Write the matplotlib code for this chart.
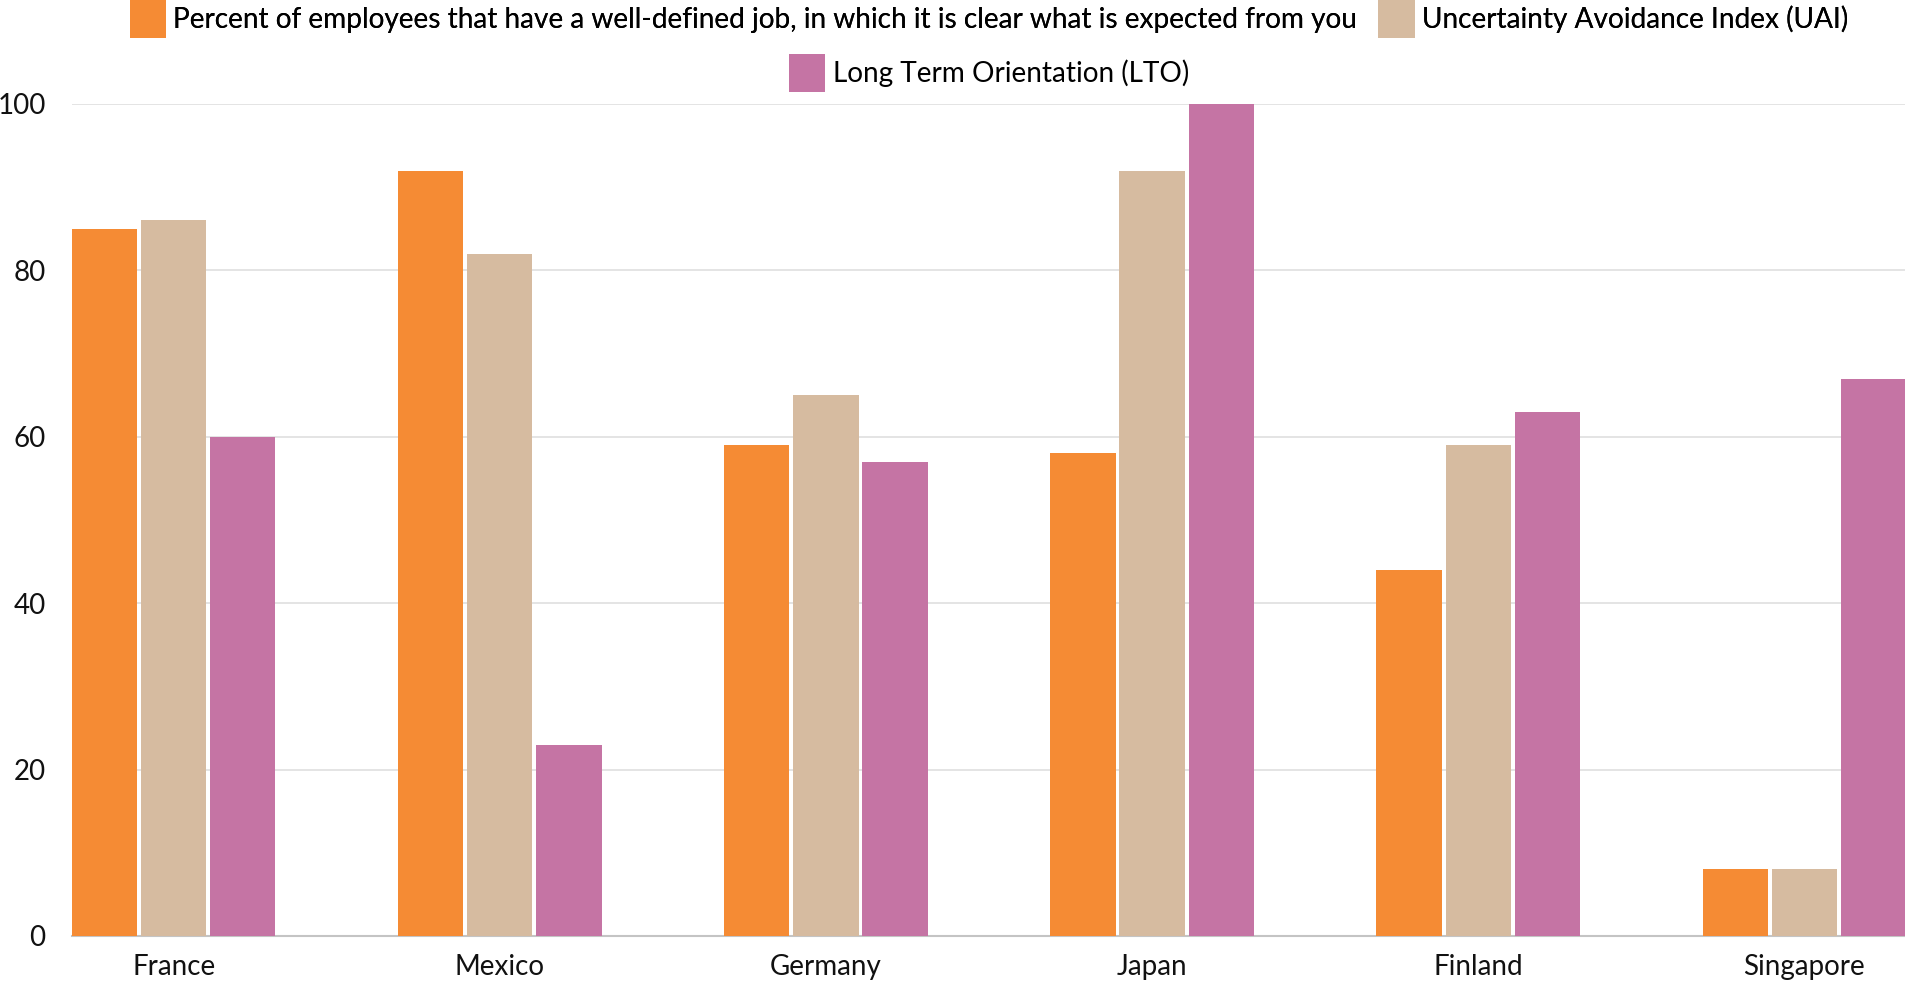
import numpy as np
import matplotlib
matplotlib.use("Agg")
import matplotlib.pyplot as plt
from matplotlib.patches import Patch

plt.rcParams['font.family'] = ['Lato', 'DejaVu Sans']

# data
countries = ["France", "Mexico", "Germany", "Japan", "Finland", "Singapore"]
well_defined = [85, 92, 59, 58, 44, 8]
uai = [86, 82, 65, 92, 59, 8]
lto = [60, 23, 57, 100, 63, 67]
series_names = [
    "Percent of employees that have a well-defined job, in which it is clear what is expected from you",
    "Uncertainty Avoidance Index (UAI)",
    "Long Term Orientation (LTO)",
]
colors = ["#F58B34", "#D6BBA0", "#C574A4"]

W, H = 1906, 983
fig = plt.figure(figsize=(W / 100, H / 100), dpi=100)
ax = fig.add_axes([72 / W, 1 - 936 / H, 1 - 72 / W, (936 - 104) / H])

x = np.arange(len(countries))
bw = 0.2
step = 0.212
for i, (vals, c) in enumerate(zip([well_defined, uai, lto], colors)):
    ax.bar(x + (i - 1) * step, vals, width=bw, color=c, zorder=3)

ax.set_xlim(-0.312, len(countries) - 1 + 0.312)
ax.set_ylim(0, 100)
ax.set_yticks([0, 20, 40, 60, 80, 100])
ax.set_xticks(x)
ax.set_xticklabels(countries)
ax.grid(axis='y', color='#e2e2e2', linewidth=1.3, zorder=0)
for s in ['top', 'right', 'left']:
    ax.spines[s].set_visible(False)
ax.spines['bottom'].set_color('#c4c4c4')
ax.spines['bottom'].set_linewidth(1.5)
ax.tick_params(axis='both', length=0, labelsize=20, colors='#111111')
ax.tick_params(axis='y', pad=19)
ax.tick_params(axis='x', pad=13)

# legend in two rows, centred over the plot
fs = 20.2
cx = (72 + W) / 2 / W
handles = [Patch(facecolor=c, edgecolor='none') for c in colors]
leg_kw = dict(loc='center', frameon=False, fontsize=fs,
              handlelength=1.3, handleheight=1.72, handletextpad=0.26,
              borderpad=0, borderaxespad=0)
leg1 = fig.legend(handles[:2], series_names[:2], ncol=2,
                  bbox_to_anchor=(cx, 1 - 19 / H), columnspacing=0.75, **leg_kw)
leg2 = fig.legend(handles[2:], series_names[2:],
                  bbox_to_anchor=(cx, 1 - 73 / H), **leg_kw)
fig.add_artist(leg1)

plt.savefig("out.png", dpi=100)
